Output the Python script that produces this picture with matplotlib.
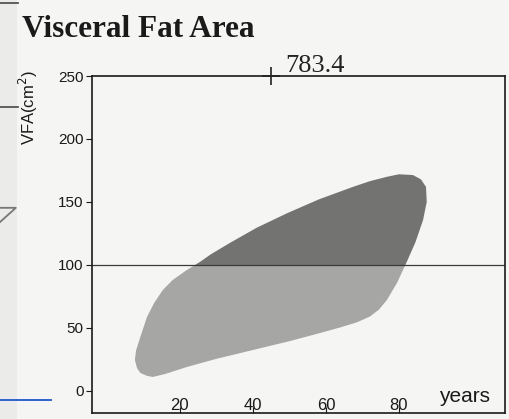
import matplotlib
matplotlib.use("Agg")
import matplotlib.pyplot as plt
from matplotlib.patches import Polygon, Rectangle
from matplotlib.lines import Line2D

# Reference range band (age vs VFA), outline
band_age = [7.7, 8.3, 9.2, 11.0, 12.6, 16.0, 21.9, 30.0, 40.0, 50.0, 58.4, 64.0,
            68.5, 72.0, 74.5, 76.7, 79.5, 82.0, 84.5, 86.6, 87.6, 87.4, 86.0, 83.8,
            80.0, 76.7, 72.0, 67.4, 58.0, 49.3, 41.0, 33.7, 28.5, 25.5, 21.9,
            18.0, 15.3, 13.0, 11.0, 9.2, 8.0]
band_vfa = [24.6, 18.0, 14.3, 12.0, 11.1, 13.5, 19.0, 25.5, 32.5, 39.5, 46.0, 50.5,
            54.5, 59.0, 64.5, 72.2, 86.0, 101.6, 118.0, 135.7, 150.0, 162.0, 168.0, 171.4,
            172.0, 170.0, 166.5, 162.0, 152.0, 141.0, 129.5, 117.5, 108.5, 102.4, 96.0,
            88.0, 80.0, 70.0, 58.7, 43.0, 32.0]

x_ticks = [20, 40, 60, 80]
y_ticks = [0, 50, 100, 150, 200, 250]
cutoff = 100
outlier_age = 45
outlier_vfa = 250
outlier_label = "783.4"

sans = ["Liberation Sans Narrow", "Liberation Sans", "DejaVu Sans"]
serif = ["Liberation Serif", "DejaVu Serif"]
paper = "#f5f5f3"
ink = "#1a1a1a"

fig = plt.figure(figsize=(5.10, 4.19), dpi=100, facecolor=paper)
ax = fig.add_axes([0.180, 0.0143, 0.810, 0.8043])
ax.set_facecolor(paper)
ax.set_xlim(-4.1, 109)
ax.set_ylim(-17.5, 250)

# band, darker above the 100 cm2 cut-off
band = Polygon(list(zip(band_age, band_vfa)), closed=True, facecolor="none",
               edgecolor="none")
ax.add_patch(band)
lower = ax.axhspan(-17.5, cutoff, color="#a6a6a4", lw=0)
upper = ax.axhspan(cutoff, 250, color="#737372", lw=0)
lower.set_clip_path(band)
upper.set_clip_path(band)

ax.axhline(cutoff, color="#3a3a3a", lw=0.9)

# out-of-range value marked at the top
ax.plot([outlier_age], [outlier_vfa], marker="+", ms=13, mew=1.2, color="#222222",
        clip_on=False, zorder=5)
ax.text(outlier_age + 3.8, outlier_vfa - 1, outlier_label, family=serif,
        fontsize=19, color="#222222", va="bottom", ha="left")

for s in ax.spines.values():
    s.set_color(ink)
    s.set_linewidth(1.2)

ax.set_xticks(x_ticks)
ax.set_yticks(y_ticks)
ax.tick_params(axis="x", direction="in", length=4, pad=0, labelsize=12,
               colors=ink)
ax.tick_params(axis="y", direction="out", length=4, pad=2, labelsize=11,
               colors=ink)
for lab in ax.get_xticklabels() + ax.get_yticklabels():
    lab.set_family(sans)
for lab in ax.get_xticklabels():
    lab.set_verticalalignment("bottom")

ax.text(0.965, 0.02, "years", transform=ax.transAxes, family=sans, fontsize=15,
        ha="right", va="bottom", color=ink)
ax.set_ylabel("VFA(cm$^2$)", family=sans, fontsize=12, color=ink)
ax.yaxis.set_label_coords(-0.126, 0.905)

fig.text(0.043, 0.930, "Visceral Fat Area", family=serif, fontsize=22.5,
         weight="bold", color=ink, va="center", ha="left")

# scan edge: greyer strip and stray marks at the left border
fig.add_artist(Rectangle((0, 0), 0.033, 1, transform=fig.transFigure,
                         color="#ebebea", lw=0, zorder=0))
for (xs, ys, c) in [([0, 0.035], [0.993, 0.993], "#555555"),
                    ([0, 0.035], [0.745, 0.745], "#555555"),
                    ([0, 0.031, 0.0], [0.504, 0.504, 0.470], "#777777"),
                    ([0, 0.10], [0.045, 0.045], "#2255cc")]:
    fig.add_artist(Line2D(xs, ys, color=c, lw=1.3))

fig.savefig("out.png", dpi=100, facecolor=paper)
